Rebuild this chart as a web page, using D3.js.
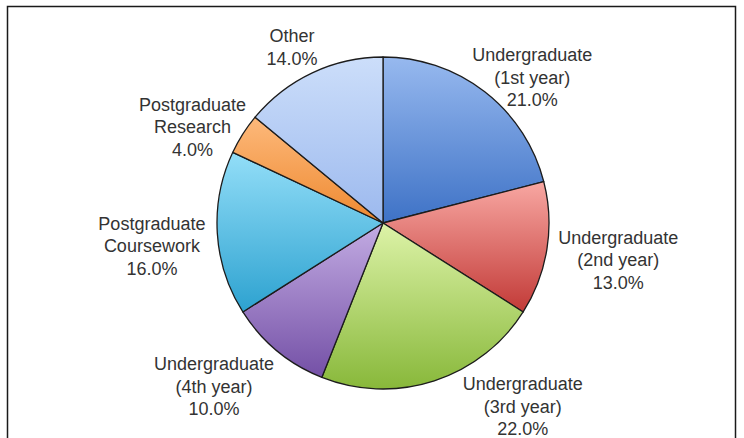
<!DOCTYPE html>
<html><head><meta charset="utf-8">
<script src="https://cdn.jsdelivr.net/npm/d3@7"></script>
<style>html,body{margin:0;padding:0;background:#fff;}svg{display:block;}</style>
</head><body>
<svg id="chart" width="744" height="438"></svg>
<script>
const categories = ["Undergraduate\n(1st year)", "Undergraduate\n(2nd year)", "Undergraduate\n(3rd year)", "Undergraduate\n(4th year)", "Postgraduate\nCoursework", "Postgraduate\nResearch", "Other"];
const values = [21, 13, 22, 10, 16, 4, 14];
const colorTop = ["#97b9ef", "#f8a7a2", "#ddf3a8", "#c3ace3", "#93def8", "#fdb97b", "#ccdefa"];
const colorBottom = ["#3e72c6", "#c23a37", "#88b83a", "#7450a6", "#2da2d0", "#ee8930", "#9cb9ee"];

const svg = d3.select("#chart");
const W = 744, H = 438;
svg.append("rect").attr("x", 7.5).attr("y", 6.5).attr("width", 728).attr("height", 450)
  .attr("fill", "#fff").attr("stroke", "#1a1a1a").attr("stroke-width", 1.5);

const cx = 383, cy = 223, r = 166;
const total = d3.sum(values);
const pie = d3.pie().sort(null).value(d => d)(values);
const arc = d3.arc().innerRadius(0).outerRadius(r);

const defs = svg.append("defs");
pie.forEach((p, i) => {
  const g = defs.append("linearGradient").attr("id", "g" + i)
    .attr("x1", 0).attr("y1", 0).attr("x2", 0).attr("y2", 1);
  g.append("stop").attr("offset", "0%").attr("stop-color", colorTop[i]);
  g.append("stop").attr("offset", "100%").attr("stop-color", colorBottom[i]);
});

const gp = svg.append("g").attr("transform", `translate(${cx},${cy})`);
gp.selectAll("path").data(pie).join("path")
  .attr("d", arc)
  .attr("fill", (d, i) => `url(#g${i})`)
  .attr("stroke", "#1c1c1c").attr("stroke-width", 1.3).attr("stroke-linejoin", "round");

// labels (outside end) with small placement nudges
const nudges = [[7, 17], [6, 5], [68, -12], [-21, 5], [-6, 10], [0, 14], [-7, 0]];
const fmt = d3.format(".1f");
const lh = 22.5, fs = 18;
pie.forEach((p, i) => {
  const lines = categories[i].split("\n").concat([fmt(values[i] / total * 100) + "%"]);
  const a = (p.startAngle + p.endAngle) / 2;
  const sa = Math.sin(a), ca = Math.cos(a);
  const t = svg.append("text")
    .attr("font-family", "'Liberation Sans', Arial, sans-serif")
    .attr("font-size", fs).attr("fill", "#333").attr("text-anchor", "middle");
  lines.forEach((ln, k) => t.append("tspan").attr("x", 0).attr("y", k * lh).text(ln));
  const bb = t.node().getBBox();
  const w = bb.width, h = lines.length * lh;
  const px = cx + (r + 6) * sa, py = cy - (r + 6) * ca;
  const bx = px + sa * w / 2 + nudges[i][0];
  const by = py - ca * h / 2 + nudges[i][1];
  const y0 = by - h / 2 + lh / 2 + fs * 0.35;
  t.selectAll("tspan").attr("x", bx).attr("y", (d, k) => y0 + k * lh);
});
</script>
</body></html>
